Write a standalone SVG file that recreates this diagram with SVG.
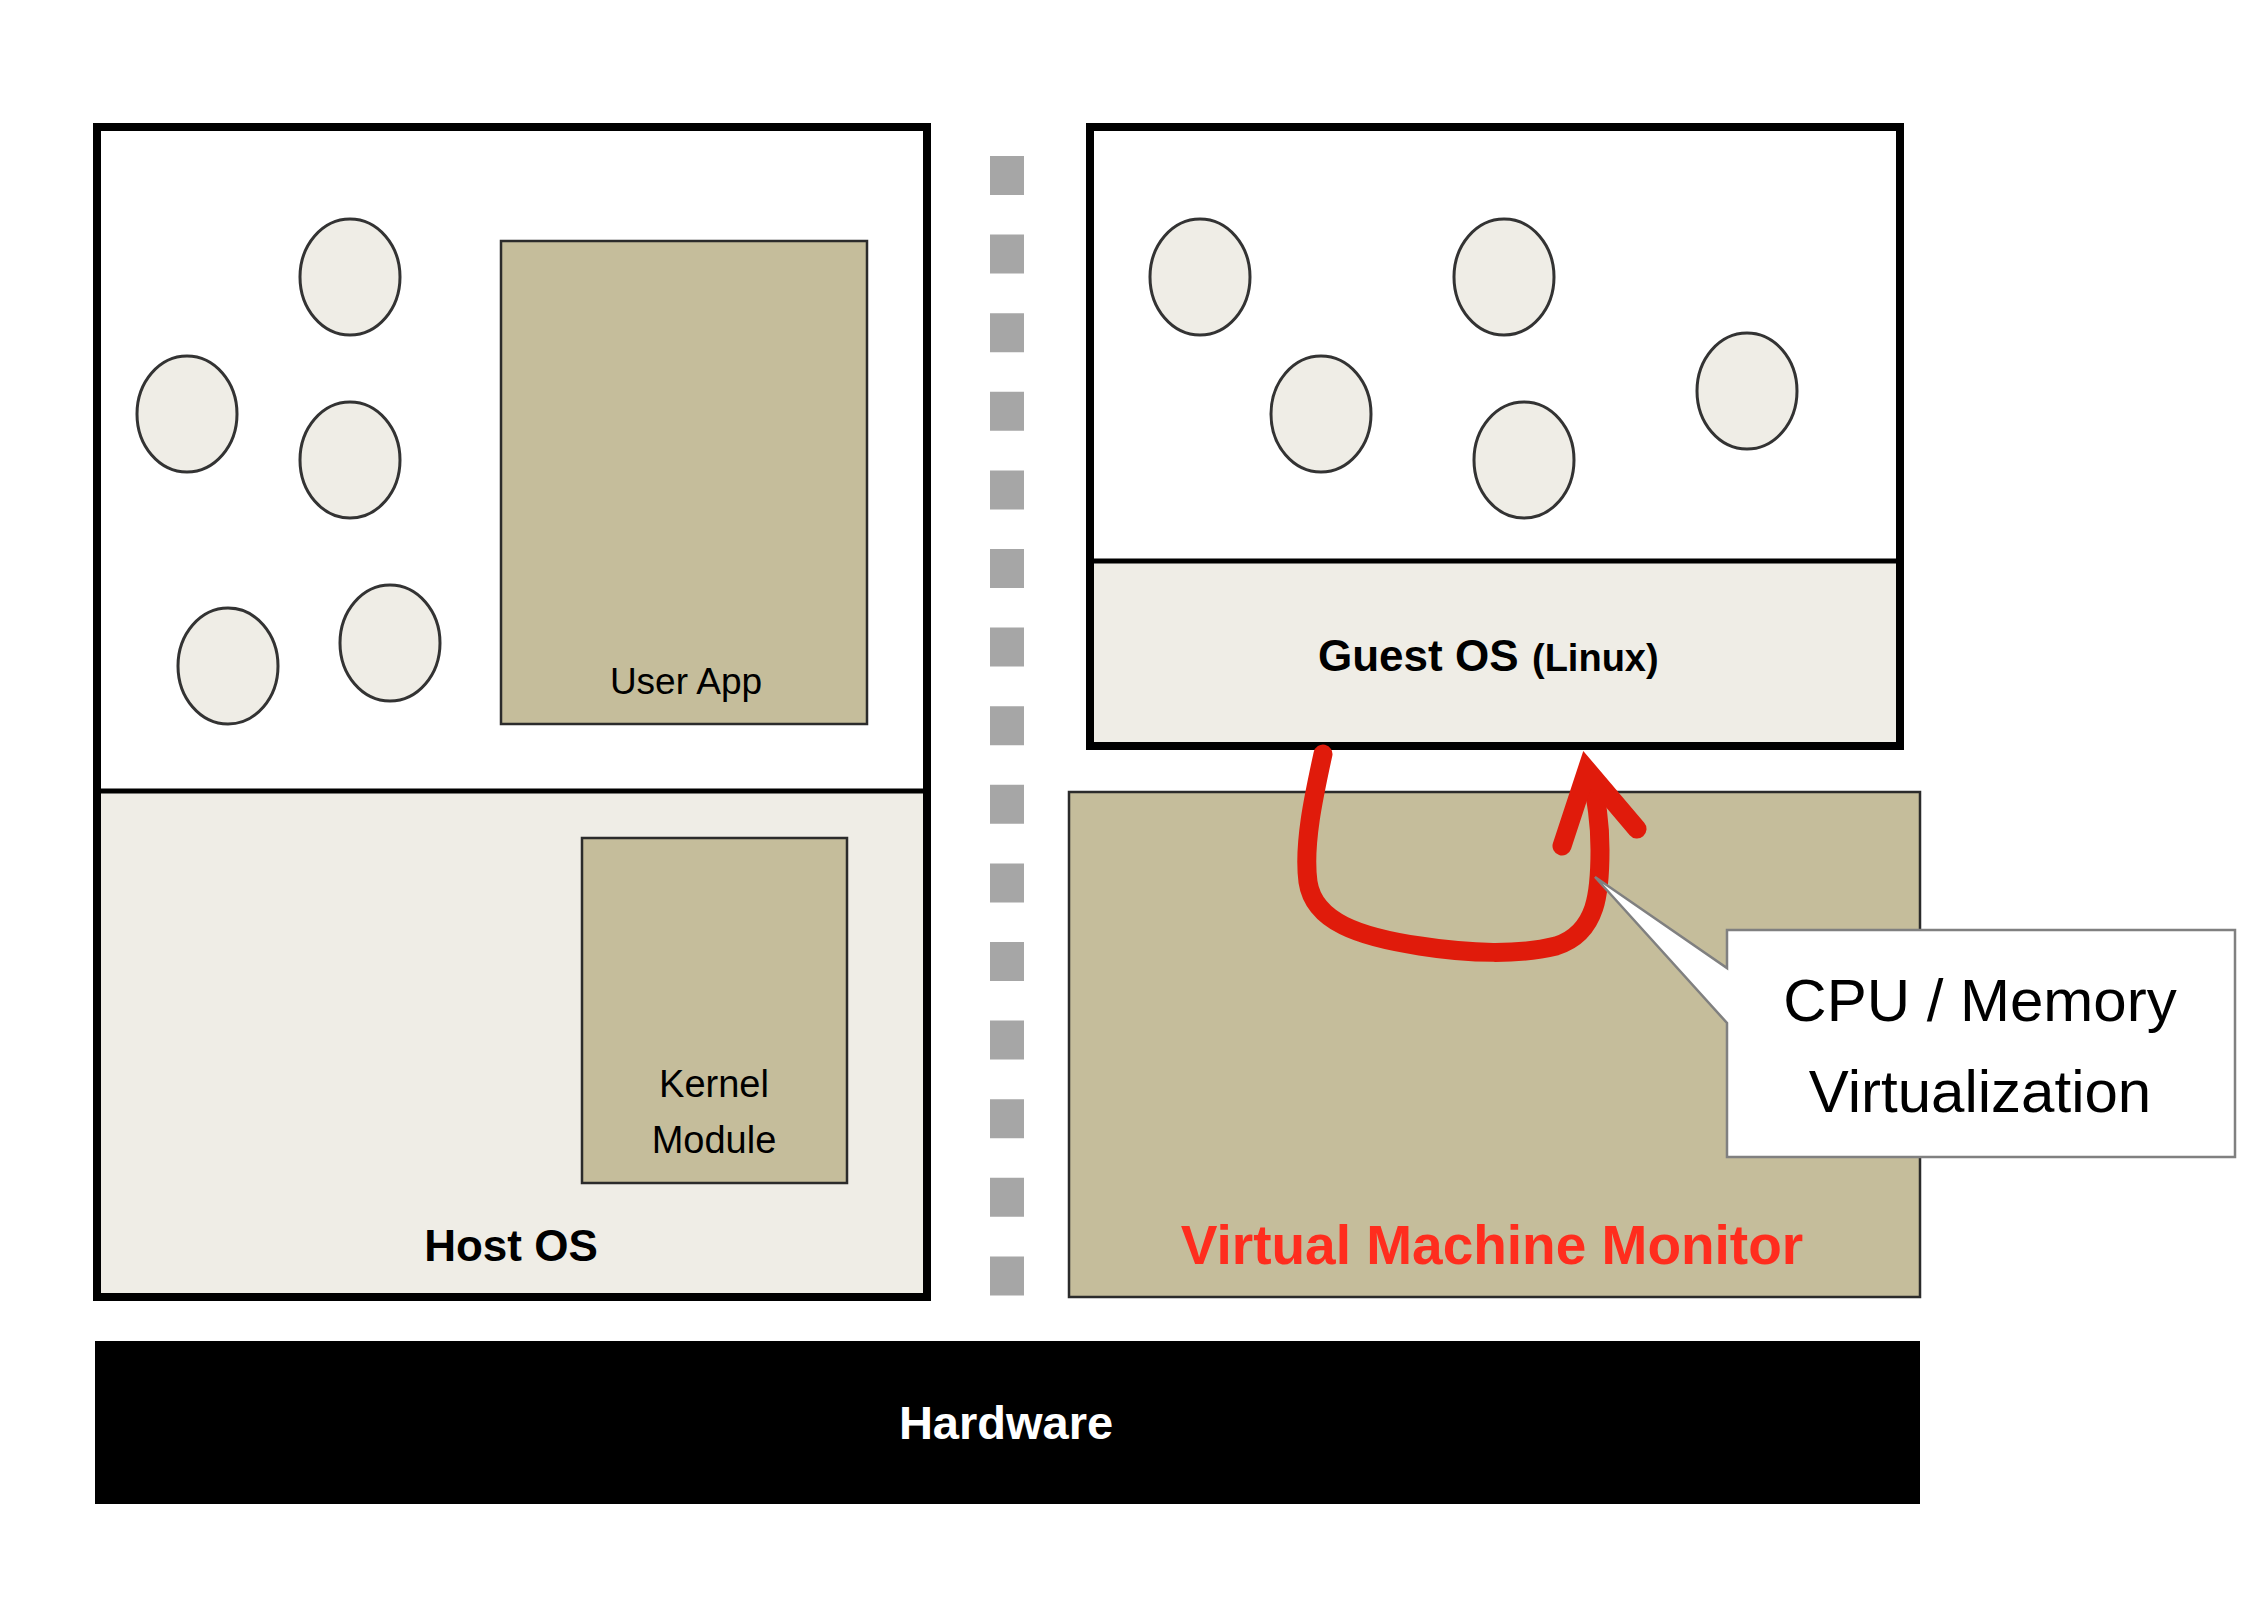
<svg xmlns="http://www.w3.org/2000/svg" width="2246" height="1598" viewBox="0 0 2246 1598">
<style>
.frame{fill:none;stroke:#000;stroke-width:8}
.div{stroke:#000;stroke-width:5}
.tan{fill:#C5BD9B;stroke:#2b2b2b;stroke-width:2.5}
.light{fill:#EFEDE6}
.proc{fill:#EFEDE6;stroke:#333;stroke-width:3}
.t{font-family:"Liberation Sans",Arial,sans-serif;fill:#000}
.b{font-weight:bold}
.red{fill:none;stroke:#E01B0B;stroke-width:19;stroke-linecap:round}
</style>
<rect width="2246" height="1598" fill="#ffffff"/>

<g id="host">
<rect x="97" y="127" width="830" height="664" fill="#ffffff"/>
<rect x="97" y="791" width="830" height="506" class="light"/>
<line x1="97" y1="791" x2="927" y2="791" class="div"/>
<rect x="97" y="127" width="830" height="1170" class="frame"/>
<text x="511" y="1261" class="t b" font-size="44" text-anchor="middle">Host OS</text>
</g>

<g id="host-procs">
<ellipse cx="350" cy="277" rx="50" ry="58" class="proc"/>
<ellipse cx="187" cy="414" rx="50" ry="58" class="proc"/>
<ellipse cx="350" cy="460" rx="50" ry="58" class="proc"/>
<ellipse cx="228" cy="666" rx="50" ry="58" class="proc"/>
<ellipse cx="390" cy="643" rx="50" ry="58" class="proc"/>
</g>

<g id="user-app">
<rect x="501" y="241" width="366" height="483" class="tan"/>
<text x="686" y="694" class="t" font-size="37" text-anchor="middle">User App</text>
</g>

<g id="kernel-module">
<rect x="582" y="838" width="265" height="345" class="tan"/>
<text x="714" y="1097" class="t" font-size="38" text-anchor="middle">Kernel</text>
<text x="714" y="1153" class="t" font-size="38" text-anchor="middle">Module</text>
</g>

<g id="separator">
<line x1="1007" y1="156" x2="1007" y2="1297" stroke="#A6A6A6" stroke-width="34" stroke-dasharray="39 39.6"/>
</g>

<g id="guest">
<rect x="1090" y="127" width="810" height="434" fill="#ffffff"/>
<rect x="1090" y="561" width="810" height="185" class="light"/>
<line x1="1090" y1="561" x2="1900" y2="561" class="div"/>
<rect x="1090" y="127" width="810" height="619" class="frame"/>
<text y="671" class="t b"><tspan x="1318" font-size="44">Guest OS</tspan><tspan x="1532" font-size="38">(Linux)</tspan></text>
</g>

<g id="guest-procs">
<ellipse cx="1200" cy="277" rx="50" ry="58" class="proc"/>
<ellipse cx="1504" cy="277" rx="50" ry="58" class="proc"/>
<ellipse cx="1321" cy="414" rx="50" ry="58" class="proc"/>
<ellipse cx="1524" cy="460" rx="50" ry="58" class="proc"/>
<ellipse cx="1747" cy="391" rx="50" ry="58" class="proc"/>
</g>

<g id="vmm">
<rect x="1069" y="792" width="851" height="505" class="tan"/>
<text x="1492" y="1264" class="t b" font-size="55" text-anchor="middle" style="fill:#FF2D1E">Virtual Machine Monitor</text>
</g>

<g id="hardware">
<rect x="95" y="1341" width="1825" height="163" fill="#000"/>
<text x="1006" y="1439" class="t b" font-size="47" text-anchor="middle" style="fill:#fff">Hardware</text>
</g>

<g id="connectors">
<path d="M1323,754 C1314,795 1303,845 1308,882 C1314,922 1360,937 1420,946 C1470,954 1520,955 1556,946 C1598,933 1600,890 1600,850 C1600,820 1596,800 1592,780" class="red"/>
<path d="M1562,846 L1587,770 L1637,829" class="red" stroke-linejoin="miter"/>
</g>

<g id="callout">
<path d="M1727,930 H2235 V1157 H1727 V1023 L1595,877 L1727,968 Z" fill="#ffffff" stroke="#808080" stroke-width="2.5"/>
<text x="1980" y="1021" class="t" font-size="60" text-anchor="middle">CPU / Memory</text>
<text x="1980" y="1112" class="t" font-size="60" text-anchor="middle">Virtualization</text>
</g>
</svg>
